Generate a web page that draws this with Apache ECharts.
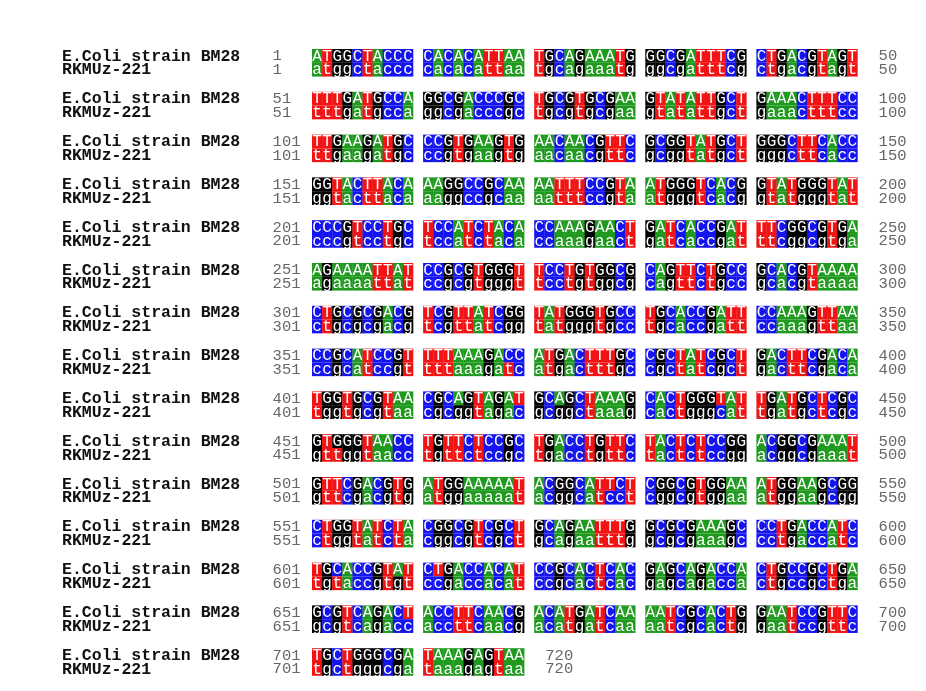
<!DOCTYPE html>
<html><head><meta charset="utf-8">
<script src="https://cdn.jsdelivr.net/npm/echarts@6/dist/echarts.min.js"></script>
<style>html,body{margin:0;padding:0;background:#fff}#c{width:926px;height:691px}</style>
</head><body><div id="c"></div>
<script>
const nameTop = 'E.Coli strain BM28';
const nameBottom = 'RKMUz-221';
const seqTop = [
'ATGGCTACCC CACACATTAA TGCAGAAATG GGCGATTTCG CTGACGTAGT',
'TTTGATGCCA GGCGACCCGC TGCGTGCGAA GTATATTGCT GAAACTTTCC',
'TTGAAGATGC CCGTGAAGTG AACAACGTTC GCGGTATGCT GGGCTTCACC',
'GGTACTTACA AAGGCCGCAA AATTTCCGTA ATGGGTCACG GTATGGGTAT',
'CCCGTCCTGC TCCATCTACA CCAAAGAACT GATCACCGAT TTCGGCGTGA',
'AGAAAATTAT CCGCGTGGGT TCCTGTGGCG CAGTTCTGCC GCACGTAAAA',
'CTGCGCGACG TCGTTATCGG TATGGGTGCC TGCACCGATT CCAAAGTTAA',
'CCGCATCCGT TTTAAAGACC ATGACTTTGC CGCTATCGCT GACTTCGACA',
'TGGTGCGTAA CGCAGTAGAT GCAGCTAAAG CACTGGGTAT TGATGCTCGC',
'GTGGGTAACC TGTTCTCCGC TGACCTGTTC TACTCTCCGG ACGGCGAAAT',
'GTTCGACGTG ATGGAAAAAT ACGGCATTCT CGGCGTGGAA ATGGAAGCGG',
'CTGGTATCTA CGGCGTCGCT GCAGAATTTG GCGCGAAAGC CCTGACCATC',
'TGCACCGTAT CTGACCACAT CCGCACTCAC GAGCAGACCA CTGCCGCTGA',
'GCGTCAGACT ACCTTCAACG ACATGATCAA AATCGCACTG GAATCCGTTC',
'TGCTGGGCGA TAAAGAGTAA'
];
const seqBottom = [
'atggctaccc cacacattaa tgcagaaatg ggcgatttcg ctgacgtagt',
'tttgatgcca ggcgacccgc tgcgtgcgaa gtatattgct gaaactttcc',
'ttgaagatgc ccgtgaagtg aacaacgttc gcggtatgct gggcttcacc',
'ggtacttaca aaggccgcaa aatttccgta atgggtcacg gtatgggtat',
'cccgtcctgc tccatctaca ccaaagaact gatcaccgat ttcggcgtga',
'agaaaattat ccgcgtgggt tcctgtggcg cagttctgcc gcacgtaaaa',
'ctgcgcgacg tcgttatcgg tatgggtgcc tgcaccgatt ccaaagttaa',
'ccgcatccgt tttaaagatc atgactttgc cgctatcgct gacttcgaca',
'tggtgcgtaa cgcggtagac gcggctaaag cactgggcat tgatgctcgc',
'gttggtaacc tgttctccgc tgacctgttc tactctccgg acggcgaaat',
'gttcgacgtg atggaaaaat acggcatcct cggcgtggaa atggaagcgg',
'ctggtatcta cggcgtcgct gcagaatttg gcgcgaaagc cctgaccatc',
'tgtaccgtgt ccgaccacat ccgcactcac gagcagacca ctgccgctga',
'gcgtcagacc accttcaacg acatgatcaa aatcgcactg gaatccgttc',
'tgctgggcga taaagagtaa'
];
const baseColors = {A:'#1f9a1f', T:'#f21414', C:'#1414f0', G:'#000000'};

const cells = [], labels = [];
seqTop.forEach((row, r) => {
  const top = row.replace(/ /g,''), bot = seqBottom[r].replace(/ /g,'');
  for (let p = 0; p < top.length; p++) {
    const x = p + Math.floor(p/10);
    cells.push([x, r, top[p], 0]);
    cells.push([x, r, bot[p], 1]);
  }
  const start = r*50 + 1, end = r*50 + top.length;
  const endX = (top.length - 1) + Math.floor((top.length - 1)/10) + 1;
  labels.push([-24.75, r, nameTop, 0, 'name']);
  labels.push([-24.75, r, nameBottom, 1, 'name']);
  labels.push([-3.9, r, String(start), 0, 'num']);
  labels.push([-3.9, r, String(start), 1, 'num']);
  labels.push([endX + 2.1, r, String(end), 0, 'num']);
  labels.push([endX + 2.1, r, String(end), 1, 'num']);
});

const chart = echarts.init(document.getElementById('c'));
const RH = 28/43.5;
chart.setOption({
  animation:false,
  grid:{left:312, top:49, width:545.4, height:652.5},
  xAxis:{type:'value', min:0, max:54, show:false},
  yAxis:{type:'value', min:0, max:15, inverse:true, show:false},
  series:[
    {type:'custom', data:cells, clip:false,
     renderItem:(params, api) => {
       const x = api.value(0), r = api.value(1), ch = cells[params.dataIndex][2], half = api.value(3);
       const p0 = api.coord([x, r + half*RH/2]);
       const p1 = api.coord([x + 1, r + (half+1)*RH/2]);
       return {type:'group', children:[
         {type:'rect', shape:{x:p0[0], y:p0[1], width:p1[0]-p0[0]+0.3, height:p1[1]-p0[1]},
          style:{fill:baseColors[ch.toUpperCase()]}},
         {type:'text', style:{text:ch, x:(p0[0]+p1[0])/2, y:(p0[1]+p1[1])/2+0.5,
          align:'center', verticalAlign:'middle', fill:'#ffffff',
          font:'16px "Liberation Mono", monospace'}}
       ]};
     }},
    {type:'custom', data:labels, clip:false,
     renderItem:(params, api) => {
       const d = labels[params.dataIndex];
       const p = api.coord([d[0], d[1] + (d[3]*2+1)*RH/4]);
       const isName = d[4] === 'name';
       return {type:'text', style:{text:d[2], x:p[0], y:p[1]+0.5, align:'left', verticalAlign:'middle',
         fill: isName ? '#111' : '#666',
         font: isName ? 'bold 16.5px "Liberation Mono", monospace' : '15.5px "Liberation Mono", monospace'}};
     }}
  ]
});
</script></body></html>
